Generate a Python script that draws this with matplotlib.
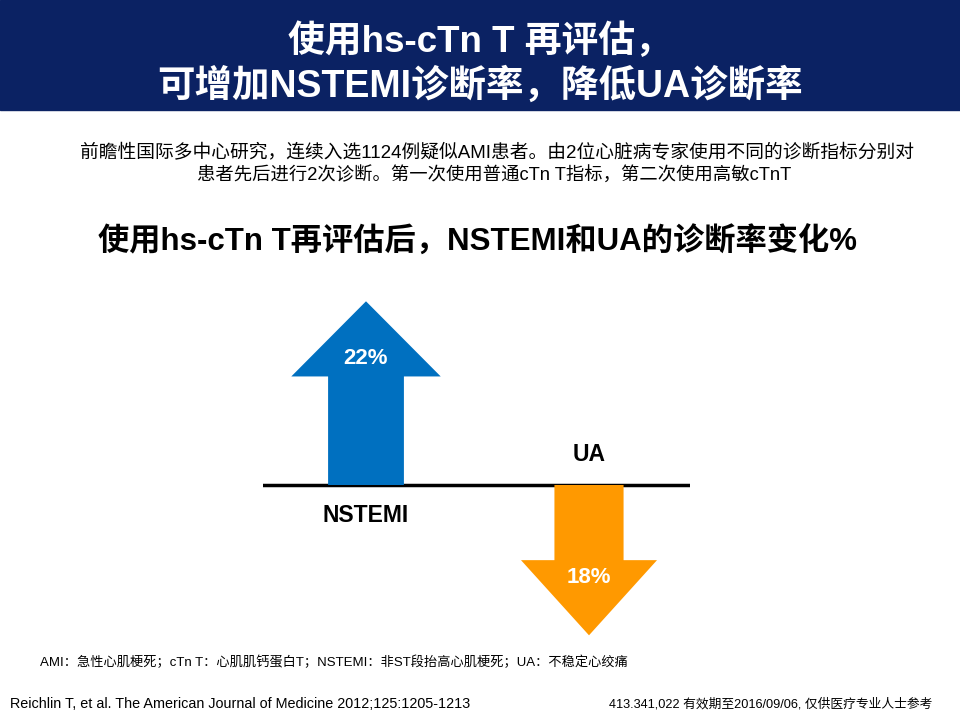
import matplotlib
matplotlib.use("Agg")
import matplotlib.pyplot as plt
from matplotlib.patches import Rectangle

# ---------------- DATA ---------------- #
categories = ["NSTEMI", "UA"]
changes = [22, -18]          # % change in diagnosis rate after hs-cTn T
value_labels = ["22%", "18%"]

header_lines = ["使用hs-cTn T 再评估，", "可增加NSTEMI诊断率，降低UA诊断率"]
intro_lines = ["前瞻性国际多中心研究，连续入选1124例疑似AMI患者。由2位心脏病专家使用不同的诊断指标分别对",
               "患者先后进行2次诊断。第一次使用普通cTn T指标，第二次使用高敏cTnT"]
chart_title = "使用hs-cTn T再评估后，NSTEMI和UA的诊断率变化%"
footnote = "AMI：急性心肌梗死；cTn T：心肌肌钙蛋白T；NSTEMI：非ST段抬高心肌梗死；UA：不稳定心绞痛"
reference = "Reichlin T, et al. The American Journal of Medicine 2012;125:1205-1213"
disclaimer = "413.341,022 有效期至2016/09/06, 仅供医疗专业人士参考"

# ---------------- STYLE ---------------- #
colors = ["#0070c0", "#ff9900"]
shaft_widths = [0.34, 0.31]
head_widths = [0.67, 0.61]
head_length = 9.0
navy = "#0b2263"
bold_font = ["Liberation Sans", "Noto Sans CJK SC"]
body_font = ["Liberation Sans", "Noto Sans CJK SC"]

W, H = 960, 720


def fx(x):
    return x / W


def fy(y):
    return 1 - y / H


fig = plt.figure(figsize=(9.6, 7.2), dpi=100)

# header band
fig.patches.append(Rectangle((0, fy(110)), 1, 110 / H, transform=fig.transFigure,
                             color=navy, zorder=0))
fig.text(0.5, fy(42), header_lines[0], ha="center", va="center", color="white",
         fontsize=26.5, fontweight="bold", family=bold_font)
fig.text(0.5, fy(86), header_lines[1], ha="center", va="center", color="white",
         fontsize=27, fontweight="bold", family=bold_font)

# intro text
fig.text(fx(497), fy(153), intro_lines[0], ha="center", va="center", color="black",
         fontsize=13.5, family=body_font)
fig.text(fx(494), fy(176), intro_lines[1], ha="center", va="center", color="black",
         fontsize=13.2, family=body_font)

# chart title
fig.text(fx(478), fy(242), chart_title, ha="center", va="center", color="black",
         fontsize=22.5, fontweight="bold", family=bold_font)

# ---------------- ARROW CHART ---------------- #
px_per_unit = 8.35
x_left, x_right = 263, 690
y_top, y_bot = 270, 640
base_y = 485
cx = [366, 589]
px_per_cat = cx[1] - cx[0]

ax = fig.add_axes([fx(x_left), fy(y_bot), (x_right - x_left) / W, (y_bot - y_top) / H])
ax.set_xlim(-(cx[0] - x_left) / px_per_cat, (x_right - cx[0]) / px_per_cat)
ax.set_ylim(-(y_bot - base_y) / px_per_unit, (base_y - y_top) / px_per_unit)
ax.axis("off")

for i, (cat, val, lab) in enumerate(zip(categories, changes, value_labels)):
    ax.arrow(i, 0, 0, val, width=shaft_widths[i], head_width=head_widths[i],
             head_length=head_length, length_includes_head=True,
             color=colors[i], linewidth=0, clip_on=False, zorder=2)
    sign = 1 if val > 0 else -1
    ax.text(i, val - sign * 6.9, lab, ha="center", va="center", color="white",
            fontsize=16, fontweight="bold", family=bold_font, zorder=3)
    ax.text(i, -sign * 3.6, cat, ha="center", va="center", color="black",
            fontsize=16.5, fontweight="bold", family=bold_font, zorder=3)

ax.axhline(0, color="black", linewidth=2.5, zorder=1)

# ---------------- FOOTER ---------------- #
fig.text(fx(40), fy(662), footnote, ha="left", va="center", color="black",
         fontsize=9.5, family=body_font)
fig.text(fx(10), fy(704), reference, ha="left", va="center", color="black",
         fontsize=10.4, family=body_font)
fig.text(fx(932), fy(704), disclaimer, ha="right", va="center", color="black",
         fontsize=9.2, family=body_font)

fig.savefig("out.png", dpi=100)
